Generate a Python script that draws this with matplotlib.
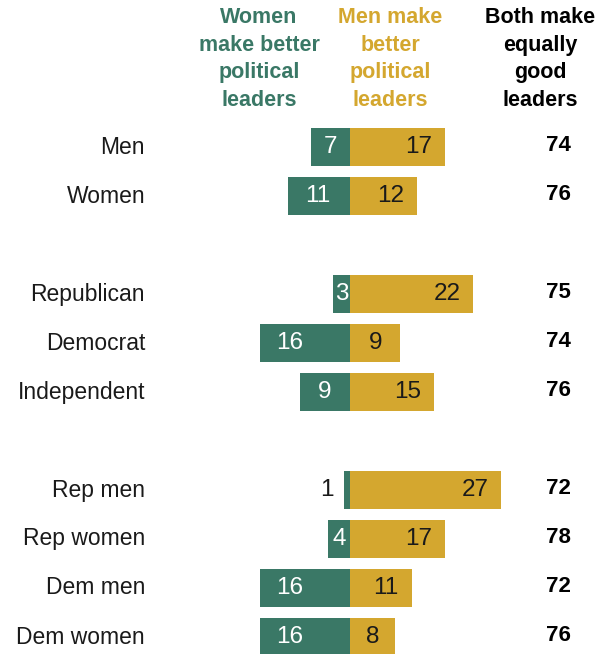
import matplotlib
matplotlib.use('Agg')
import matplotlib.pyplot as plt

# survey groups and shares (%) for each answer
groups = ['Men', 'Women', 'Republican', 'Democrat', 'Independent',
          'Rep men', 'Rep women', 'Dem men', 'Dem women']
women_better = [7, 11, 3, 16, 9, 1, 4, 16, 16]
men_better = [17, 12, 22, 9, 15, 27, 17, 11, 8]
both_equal = [74, 76, 75, 74, 76, 72, 78, 72, 76]

# row slots, blank slot between the three blocks
rows = [0, 1, 3, 4, 5, 7, 8, 9, 10]

GREEN = '#3a7866'
GOLD = '#d4a72f'
NARROW = ['Liberation Sans Narrow', 'Liberation Sans', 'DejaVu Sans']
BOLD = ['Liberation Sans', 'DejaVu Sans']

W, H = 610, 654
fig = plt.figure(figsize=(W / 100, H / 100), dpi=100)
ax = fig.add_axes([0, 0, 1, 1])
ax.axis('off')

# 5.6 px per percentage point, zero line at x=350 px
ppu = 5.6
ax.set_xlim(-350 / ppu, (W - 350) / ppu)
ax.set_ylim((H - 147) / 49, -147 / 49)

ax.barh(rows, [-v for v in women_better], height=0.76, color=GREEN, edgecolor='none')
ax.barh(rows, men_better, height=0.76, color=GOLD, edgecolor='none')

for r, g, wv, mv, bv in zip(rows, groups, women_better, men_better, both_equal):
    ax.text(-36.6, r, g, ha='right', va='center', fontsize=16.5, family=NARROW, color='#1a1a1a')
    if wv >= 2:
        ax.text(-wv + min(5.3, wv / 2), r, str(wv), ha='center', va='center',
                fontsize=17.5, family=NARROW, color='white')
    else:
        ax.text(-wv - 2.0, r, str(wv), ha='right', va='center',
                fontsize=17.5, family=NARROW, color='#1a1a1a')
    ax.text(mv - min(4.7, mv / 2), r, str(mv), ha='center', va='center',
            fontsize=17.5, family=NARROW, color='#1a1a1a')
    ax.text(37.3, r - 0.04, str(bv), ha='center', va='center',
            fontsize=16, family=BOLD, fontweight='bold', color='black')

# column headers
heads = [('Women\nmake better\npolitical\nleaders', 259, GREEN),
         ('Men make\nbetter\npolitical\nleaders', 390, GOLD),
         ('Both make\nequally\ngood\nleaders', 540, 'black')]
for txt, xp, c in heads:
    fig.text(xp / W, 1 - 59 / H, txt, ha='center', va='center', fontsize=15.5,
             family=BOLD, fontweight='bold', color=c, linespacing=1.43)

fig.savefig('out.png', dpi=100)
